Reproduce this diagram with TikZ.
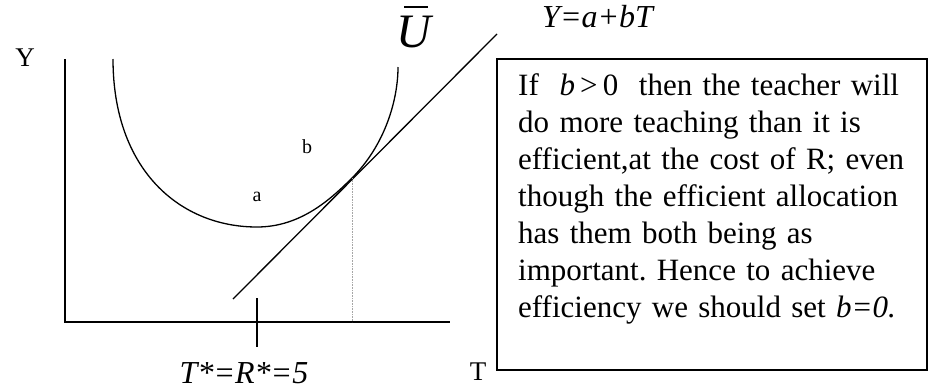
\documentclass[tikz,border=0pt]{standalone}
\usepackage{fontspec}
\setmainfont{Liberation Serif}
\usetikzlibrary{positioning, calc}
\tikzset{
    axis/.style={line width=1.5pt}, % the two axes
    curve/.style={line width=1.3pt},
    guide/.style={line width=0.6pt, draw=gray!70, densely dotted},
    lbl/.style={inner sep=0pt, font=\fontsize{27}{30}\selectfont},
    ital/.style={inner sep=0pt, font=\fontsize{32}{34}\selectfont\itshape},
    small/.style={inner sep=0pt, font=\fontsize{20}{22}\selectfont}
}

\begin{document}
\begin{tikzpicture}[x=1pt, y=-1pt]
    \useasboundingbox (0,0) rectangle (928,389);
    % axes
    \coordinate (O) at (65,322);
    \coordinate (ytop) at (65,59);
    \coordinate (xend) at (450,322);
    \draw[axis] (ytop) -- (O) -- (xend);
    \node[lbl] (ylab) at (25,58) {Y};
    \node[lbl, anchor=north] (tlab) at (478,363) {T};
    % tick at T*
    \coordinate (tk1) at (257,298);
    \coordinate (tk2) at (257,347);
    \draw[axis] (tk1) -- (tk2);
    \node[ital, anchor=north] (tstar) at (244,362) {T*=R*=5};
    % indifference curve
    \coordinate (c0) at (113,59);
    \coordinate (cmin) at (257,227);
    \coordinate (tan) at (352,178);
    \coordinate (c3) at (398,67);
    \draw[curve] (c0) .. controls (113,170) and (180,227) .. (cmin)
        .. controls (300,227) and (330,200) .. (tan)
        .. controls (385,145) and (398,100) .. (c3);
    \node[inner sep=0pt, font=\fontsize{48}{50}\selectfont\itshape] (ubar) at (414,32) {U};
    \coordinate (bar0) at (404,7);
    \coordinate (bar1) at (428,7);
    \draw[line width=1.4pt] (bar0) -- (bar1);
    % budget line
    \coordinate (l0) at (233,299);
    \coordinate (l1) at (497,34);
    \draw[curve] (l0) -- (l1);
    \node[ital, anchor=west] (bline) at (542,17) {Y=a+bT};
    % dotted drop
    \coordinate (tanx) at (352,322);
    \draw[guide] (tan) -- (tanx);
    \node[small] (pa) at (257,197) {a};
    \node[small] (pb) at (307,147) {b};
    % comment box
    \draw[curve] (497,59) rectangle (927,370);
    \node[anchor=north west, inner sep=0pt, text width=410pt, align=left,
        font=\fontsize{31}{37}\selectfont\frenchspacing] (note) at (518,73)
        {If \ \textit{b}\,>\,0\ \ then the teacher will\\
         do more teaching than it is\\
         efficient,at the cost of R; even\\
         though the efficient allocation\\
         has them both being as\\
         important. Hence to achieve\\
         efficiency we should set \textit{b=0.}};
\end{tikzpicture}
\end{document}
